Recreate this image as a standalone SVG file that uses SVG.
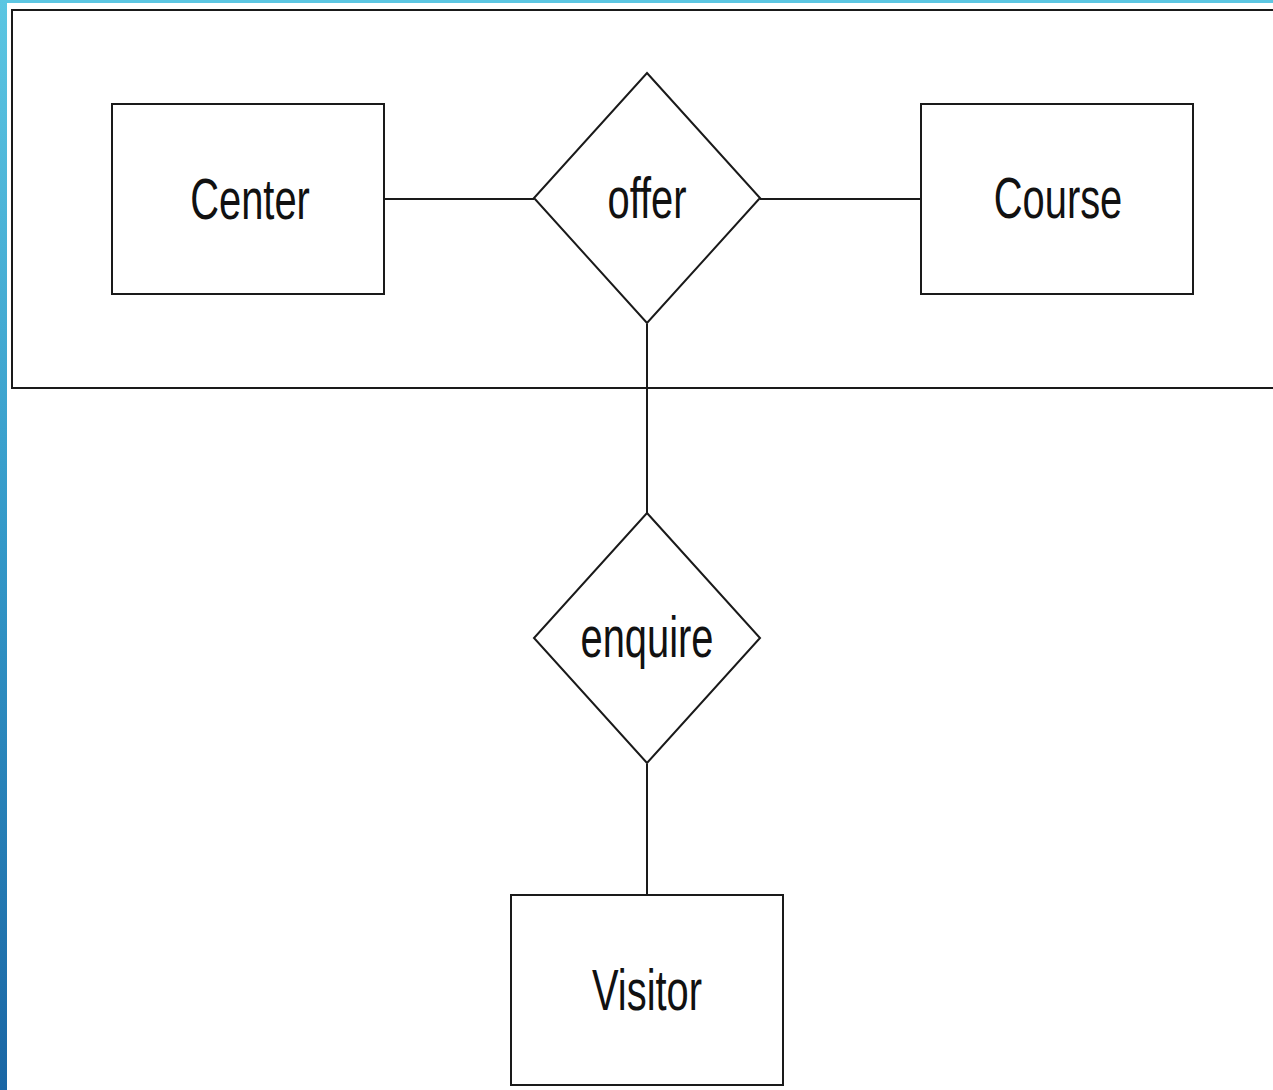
<svg xmlns="http://www.w3.org/2000/svg" width="1273" height="1090" viewBox="0 0 1273 1090">
  <defs>
    <linearGradient id="edge" x1="0" y1="0" x2="0" y2="1">
      <stop offset="0" stop-color="#5cc6e2"/>
      <stop offset="0.5" stop-color="#3398c8"/>
      <stop offset="1" stop-color="#1a66a4"/>
    </linearGradient>
  </defs>
  <style>
    .shape { fill: #ffffff; stroke: #1a1a1a; stroke-width: 2; }
    .conn { stroke: #1a1a1a; stroke-width: 2; fill: none; }
    .label { font-family: "Liberation Sans", Arial, sans-serif; font-size: 57px; fill: #111111; text-anchor: middle; }
  </style>

  <!-- page background and slide edge -->
  <rect x="0" y="0" width="1273" height="1090" fill="#ffffff"/>
  <rect x="0" y="0" width="1273" height="3" fill="#5cc6e2"/>
  <rect x="0" y="0" width="7" height="1090" fill="url(#edge)"/>

  <!-- aggregation frame -->
  <g id="aggregate">
    <rect class="shape" x="12" y="10" width="1275" height="378"/>
  </g>

  <!-- connectors -->
  <g id="connectors">
    <line class="conn" x1="384" y1="199" x2="534" y2="199"/>
    <line class="conn" x1="760" y1="199" x2="921" y2="199"/>
    <line class="conn" x1="647" y1="324" x2="647" y2="513"/>
    <line class="conn" x1="647" y1="764" x2="647" y2="895"/>
  </g>

  <g id="center">
    <rect class="shape" x="112" y="104" width="272" height="190"/>
    <text class="label" transform="translate(250,219) scale(0.7,1)">Center</text>
  </g>

  <g id="offer">
    <polygon class="shape" points="647,73 760,198 647,323 534,198"/>
    <text class="label" transform="translate(647,218) scale(0.7,1)">offer</text>
  </g>

  <g id="course">
    <rect class="shape" x="921" y="104" width="272" height="190"/>
    <text class="label" transform="translate(1058,218) scale(0.7,1)">Course</text>
  </g>

  <g id="enquire">
    <polygon class="shape" points="647,513 760,638 647,763 534,638"/>
    <text class="label" transform="translate(647,657) scale(0.7,1)">enquire</text>
  </g>

  <g id="visitor">
    <rect class="shape" x="511" y="895" width="272" height="190"/>
    <text class="label" transform="translate(647,1010) scale(0.7,1)">Visitor</text>
  </g>
</svg>
